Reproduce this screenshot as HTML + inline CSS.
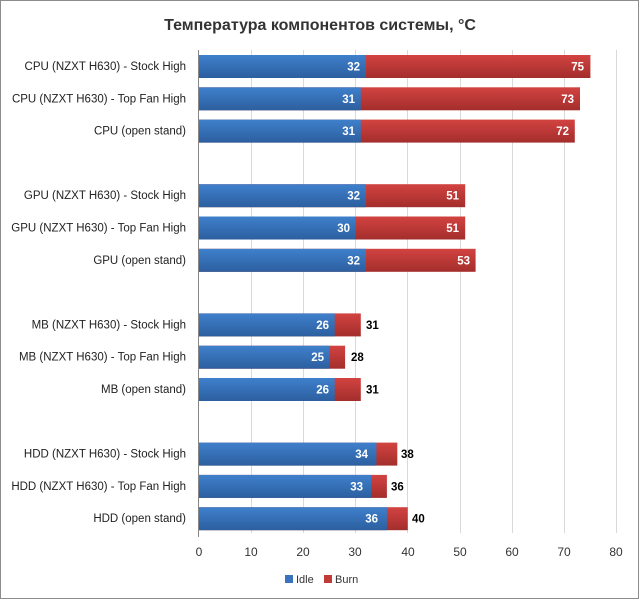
<!DOCTYPE html>
<html><head><meta charset="utf-8"><style>
body{margin:0;background:#fff}
.l{font-size:11.5px;fill:#222;text-anchor:end}
.w{font-size:11.5px;font-weight:bold;fill:#fff;text-anchor:end}
.k{font-size:11.5px;font-weight:bold;fill:#000}
</style></head><body>
<svg width="640" height="602" xmlns="http://www.w3.org/2000/svg" font-family="Liberation Sans, DejaVu Sans, sans-serif">
<defs>
<linearGradient id="b" x1="0" y1="0" x2="0" y2="1"><stop offset="0" stop-color="#3f80cc"/><stop offset="1" stop-color="#2c5f9f"/></linearGradient>
<linearGradient id="r" x1="0" y1="0" x2="0" y2="1"><stop offset="0" stop-color="#d24341"/><stop offset="1" stop-color="#a32e2c"/></linearGradient>
</defs>
<rect x="0.5" y="0.5" width="638" height="598" fill="#fff" stroke="#8c8c8c"/>
<text x="320" y="30" text-anchor="middle" font-size="16" font-weight="bold" fill="#333">Температура компонентов системы, °C</text>
<g stroke="#d9d9d9" stroke-width="1">
<line x1="251.5" y1="50" x2="251.5" y2="533"/><line x1="303.5" y1="50" x2="303.5" y2="533"/><line x1="355.5" y1="50" x2="355.5" y2="533"/><line x1="407.5" y1="50" x2="407.5" y2="533"/><line x1="460.5" y1="50" x2="460.5" y2="533"/><line x1="512.5" y1="50" x2="512.5" y2="533"/><line x1="564.5" y1="50" x2="564.5" y2="533"/><line x1="616.5" y1="50" x2="616.5" y2="533"/>
</g>
<line x1="198.5" y1="50" x2="198.5" y2="537" stroke="#868686"/>

<g>
<rect x="199" y="55" width="391.4" height="23" fill="url(#r)"/><rect x="199" y="55" width="167" height="23" fill="url(#b)"/>
<text class="l" x="186" y="70">CPU (NZXT H630) - Stock High</text><text class="w" x="360" y="70.5">32</text><text class="w" x="584" y="70.5">75</text>

<rect x="199" y="87.3" width="381" height="23" fill="url(#r)"/><rect x="199" y="87.3" width="161.8" height="23" fill="url(#b)"/>
<text class="l" x="186" y="102.3">CPU (NZXT H630) - Top Fan High</text><text class="w" x="355" y="102.8">31</text><text class="w" x="574" y="102.8">73</text>

<rect x="199" y="119.6" width="375.8" height="23" fill="url(#r)"/><rect x="199" y="119.6" width="161.8" height="23" fill="url(#b)"/>
<text class="l" x="186" y="134.6">CPU (open stand)</text><text class="w" x="355" y="135.1">31</text><text class="w" x="569" y="135.1">72</text>

<rect x="199" y="184.2" width="266.2" height="23" fill="url(#r)"/><rect x="199" y="184.2" width="167" height="23" fill="url(#b)"/>
<text class="l" x="186" y="199.2">GPU (NZXT H630) - Stock High</text><text class="w" x="360" y="199.7">32</text><text class="w" x="459" y="199.7">51</text>

<rect x="199" y="216.5" width="266.2" height="23" fill="url(#r)"/><rect x="199" y="216.5" width="156.6" height="23" fill="url(#b)"/>
<text class="l" x="186" y="231.5">GPU (NZXT H630) - Top Fan High</text><text class="w" x="350" y="232">30</text><text class="w" x="459" y="232">51</text>

<rect x="199" y="248.8" width="276.6" height="23" fill="url(#r)"/><rect x="199" y="248.8" width="167" height="23" fill="url(#b)"/>
<text class="l" x="186" y="263.8">GPU (open stand)</text><text class="w" x="360" y="264.3">32</text><text class="w" x="470" y="264.3">53</text>

<rect x="199" y="313.4" width="161.8" height="23" fill="url(#r)"/><rect x="199" y="313.4" width="135.7" height="23" fill="url(#b)"/>
<text class="l" x="186" y="328.4">MB (NZXT H630) - Stock High</text><text class="w" x="329" y="328.9">26</text><text class="k" x="366" y="328.9">31</text>

<rect x="199" y="345.7" width="146.1" height="23" fill="url(#r)"/><rect x="199" y="345.7" width="130.5" height="23" fill="url(#b)"/>
<text class="l" x="186" y="360.7">MB (NZXT H630) - Top Fan High</text><text class="w" x="324" y="361.2">25</text><text class="k" x="351" y="361.2">28</text>

<rect x="199" y="378" width="161.8" height="23" fill="url(#r)"/><rect x="199" y="378" width="135.7" height="23" fill="url(#b)"/>
<text class="l" x="186" y="393">MB (open stand)</text><text class="w" x="329" y="393.5">26</text><text class="k" x="366" y="393.5">31</text>

<rect x="199" y="442.6" width="198.3" height="23" fill="url(#r)"/><rect x="199" y="442.6" width="177.4" height="23" fill="url(#b)"/>
<text class="l" x="186" y="457.6">HDD (NZXT H630) - Stock High</text><text class="w" x="368" y="458.1">34</text><text class="k" x="401" y="458.1">38</text>

<rect x="199" y="474.9" width="187.9" height="23" fill="url(#r)"/><rect x="199" y="474.9" width="172.2" height="23" fill="url(#b)"/>
<text class="l" x="186" y="489.9">HDD (NZXT H630) - Top Fan High</text><text class="w" x="363" y="490.4">33</text><text class="k" x="391" y="490.4">36</text>

<rect x="199" y="507.2" width="208.75" height="23" fill="url(#r)"/><rect x="199" y="507.2" width="187.9" height="23" fill="url(#b)"/>
<text class="l" x="186" y="522.2">HDD (open stand)</text><text class="w" x="378" y="522.7">36</text><text class="k" x="412" y="522.7">40</text>
</g>

<g font-size="12" fill="#333" text-anchor="middle">
<text x="199" y="556">0</text><text x="251" y="556">10</text><text x="303" y="556">20</text><text x="355" y="556">30</text><text x="408" y="556">40</text><text x="460" y="556">50</text><text x="512" y="556">60</text><text x="564" y="556">70</text><text x="616" y="556">80</text>
</g>
<rect x="285" y="575" width="8" height="8" fill="#3a73bd"/><text x="296" y="583" font-size="11" fill="#333">Idle</text>
<rect x="324" y="575" width="8" height="8" fill="#c03a38"/><text x="335" y="583" font-size="11" fill="#333">Burn</text>
</svg>
</body></html>
